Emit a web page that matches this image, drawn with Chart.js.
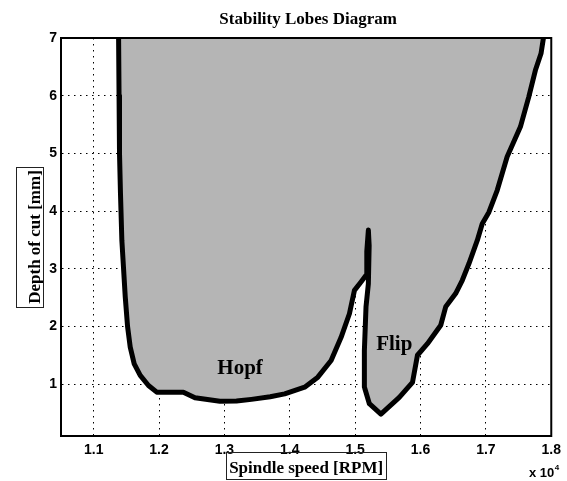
<!DOCTYPE html>
<html>
<head>
<meta charset="utf-8">
<script src="https://cdn.jsdelivr.net/npm/chart.js@4/dist/chart.umd.min.js"></script>
<style>
  html, body { margin: 0; padding: 0; background: #fff; }
  canvas { display: block; }
</style>
</head>
<body>
<canvas id="c" width="567" height="481"></canvas>
<script>
// ---- Data (spindle speed in units of 10^4 RPM, depth of cut in mm) ----
const boundarySpeed = [
  1.1381, 1.1388, 1.1395, 1.1410, 1.1431, 1.1457, 1.1483, 1.1518, 1.1559, 1.1620,
  1.1712, 1.1838, 1.1965, 1.2372, 1.2550, 1.2931, 1.3185, 1.3413, 1.3700, 1.3922,
  1.4227, 1.4429, 1.4632, 1.4785, 1.4912, 1.4989, 1.5089, 1.5166, 1.5178, 1.5202,
  1.5214, 1.5202, 1.5166, 1.5141, 1.5141, 1.5217, 1.5394, 1.5675, 1.5877, 1.5953,
  1.6106, 1.6309, 1.6385, 1.6537, 1.6639, 1.6741, 1.6868, 1.6944, 1.7046, 1.7173,
  1.7325, 1.7528, 1.7656, 1.7757, 1.7843, 1.7880
];
const boundaryDepth = [
  7.00, 6.00, 5.00, 4.30, 3.49, 3.00, 2.51, 2.00, 1.64, 1.35,
  1.15, 0.976, 0.86, 0.86, 0.762, 0.703, 0.705, 0.735, 0.78, 0.83,
  0.946, 1.12, 1.41, 1.81, 2.22, 2.625, 2.77, 2.885, 3.30, 3.67,
  3.40, 2.74, 2.34, 1.58, 0.95, 0.66, 0.48, 0.77, 1.03, 1.50,
  1.70, 2.02, 2.34, 2.57, 2.80, 3.09, 3.49, 3.78, 3.98, 4.36,
  4.94, 5.46, 5.98, 6.44, 6.73, 7.00
];
const topEdgeSpeed = [1.1381, 1.7880];
const topEdgeDepth = [7.0, 7.0];

const xTicks = [1.1, 1.2, 1.3, 1.4, 1.5, 1.6, 1.7, 1.8];
const yTicks = [1, 2, 3, 4, 5, 6, 7];

const annotationTexts = ['Hopf', 'Flip'];
const annotationSpeed = [1.324, 1.5598];
const annotationDepth = [1.167, 1.583];

const titleText = 'Stability Lobes Diagram';
const xTitle = 'Spindle speed [RPM]';
const yTitle = 'Depth of cut [mm]';
const xExponent = ['x 10', '4'];

// ---- Build chart ----
const lobePoints = boundarySpeed.map((s, i) => ({ x: s, y: boundaryDepth[i] }));
const topPoints = topEdgeSpeed.map((s, i) => ({ x: s, y: topEdgeDepth[i] }));

const SERIF = '"Liberation Serif", "Times New Roman", serif';
const SANS = '"Liberation Sans", Arial, sans-serif';

const decor = {
  id: 'decor',
  afterDraw(chart) {
    const { ctx, chartArea: a, scales: { x, y } } = chart;
    ctx.save();
    // plot frame
    ctx.strokeStyle = '#000';
    ctx.lineWidth = 2;
    ctx.strokeRect(a.left, a.top, a.right - a.left, a.bottom - a.top);

    ctx.fillStyle = '#000';
    // title
    ctx.font = 'bold 17px ' + SERIF;
    ctx.textAlign = 'center';
    ctx.textBaseline = 'alphabetic';
    ctx.fillText(titleText, (a.left + a.right) / 2 + 2, 24);

    // annotations
    ctx.font = 'bold 21px ' + SERIF;
    annotationTexts.forEach((t, i) => {
      ctx.fillText(t, x.getPixelForValue(annotationSpeed[i]), y.getPixelForValue(annotationDepth[i]));
    });

    // x axis title with box
    ctx.font = 'bold 17px ' + SERIF;
    const cx = (a.left + a.right) / 2;
    const wx = ctx.measureText(xTitle).width;
    ctx.fillText(xTitle, cx, 473);
    ctx.lineWidth = 1;
    ctx.strokeStyle = '#222';
    ctx.strokeRect(Math.round(cx - wx / 2 - 3) + 0.5, 452.5, Math.round(wx + 6), 27);

    // y axis title with box
    const cy = (a.top + a.bottom) / 2;
    const wy = ctx.measureText(yTitle).width;
    ctx.save();
    ctx.translate(39.5, cy);
    ctx.rotate(-Math.PI / 2);
    ctx.fillText(yTitle, 0, 0);
    ctx.restore();
    ctx.strokeRect(16.5, Math.round(cy - wy / 2 - 3) + 0.5, 27, Math.round(wy + 6));

    // exponent
    ctx.textAlign = 'left';
    ctx.font = 'bold 13px ' + SANS;
    ctx.fillText(xExponent[0], 529, 477);
    const w10 = ctx.measureText(xExponent[0]).width;
    ctx.font = 'bold 8px ' + SANS;
    ctx.fillText(xExponent[1], 529 + w10 + 0.5, 470);
    ctx.restore();
  }
};

new Chart(document.getElementById('c'), {
  type: 'line',
  data: {
    datasets: [
      {
        label: 'Stability boundary',
        data: lobePoints,
        borderColor: '#000',
        borderWidth: 5,
        backgroundColor: 'rgb(181,181,181)',
        fill: 'end',
        tension: 0,
        pointRadius: 0,
        borderJoinStyle: 'round',
        borderCapStyle: 'round'
      },
      {
        label: 'Top edge',
        data: topPoints,
        borderColor: '#000',
        borderWidth: 5,
        fill: false,
        tension: 0,
        pointRadius: 0,
        clip: { left: 5, top: 1, right: 5, bottom: 5 }
      }
    ]
  },
  options: {
    responsive: false,
    devicePixelRatio: 1,
    animation: false,
    events: [],
    layout: { padding: { top: 38, right: 13, left: 0, bottom: 0 } },
    plugins: {
      legend: { display: false },
      tooltip: { enabled: false },
      title: { display: false }
    },
    scales: {
      x: {
        type: 'linear',
        min: 1.05,
        max: 1.8,
        z: 1,
        afterBuildTicks(scale) { scale.ticks = xTicks.map(v => ({ value: v })); },
        afterFit(scale) { scale.height = 45; },
        ticks: {
          autoSkip: false,
          maxRotation: 0,
          padding: 6,
          color: '#000',
          font: { family: SANS, size: 14, weight: 'bold' },
          callback: v => Number(v).toFixed(1)
        },
        grid: { color: '#000', lineWidth: 1, drawTicks: false },
        border: { display: true, color: '#000', width: 2, dash: [1.5, 4.5] }
      },
      y: {
        type: 'linear',
        min: 0.1,
        max: 7,
        z: 1,
        afterBuildTicks(scale) { scale.ticks = yTicks.map(v => ({ value: v })); },
        afterFit(scale) { scale.width = 61; },
        ticks: {
          autoSkip: false,
          padding: 4,
          color: '#000',
          font: { family: SANS, size: 14, weight: 'bold' },
          callback: v => String(v)
        },
        grid: { color: '#000', lineWidth: 1, drawTicks: false },
        border: { display: true, color: '#000', width: 2, dash: [1.5, 4.5] }
      }
    }
  },
  plugins: [decor]
});
</script>
</body>
</html>
